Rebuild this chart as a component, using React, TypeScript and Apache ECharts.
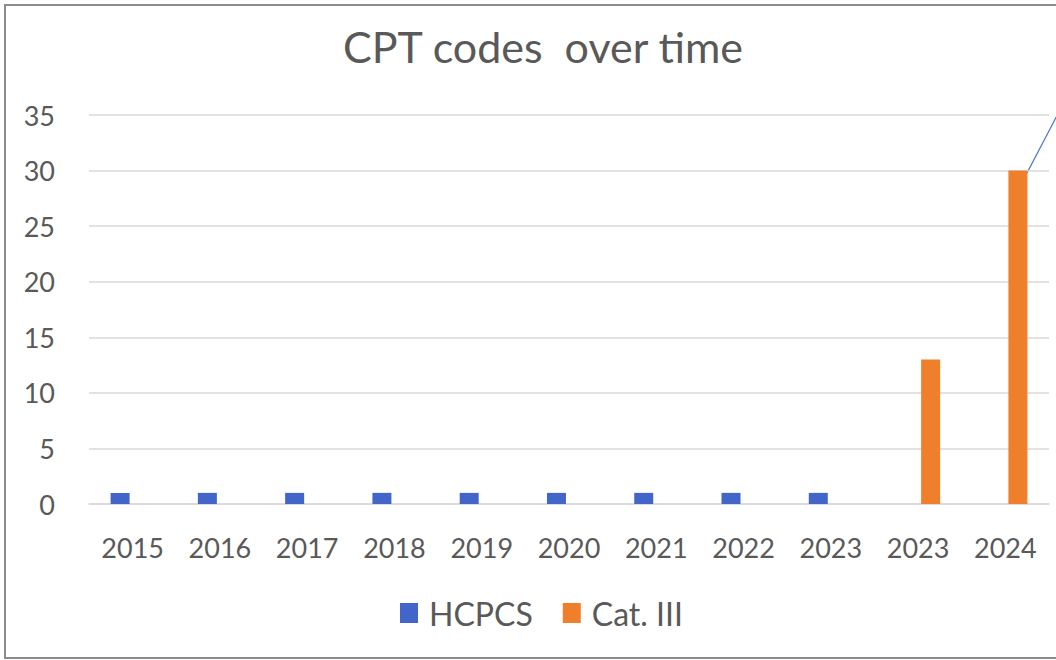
import React, { useEffect, useRef } from "react";
import * as echarts from "echarts";

const categories = ["2015", "2016", "2017", "2018", "2019", "2020", "2021", "2022", "2023", "2023", "2024"];
const hcpcsValues = [1, 1, 1, 1, 1, 1, 1, 1, 1, null, null];
const cat3Values = [null, null, null, null, null, null, null, null, null, 13, 30];
const seriesNames = ["HCPCS", "Cat. III"];
const titleText = "CPT codes  over time";

const FONT = "Lato, 'Noto Sans', sans-serif";
const TEXT = "#595959";

export default function App() {
  const ref = useRef<HTMLDivElement>(null);
  useEffect(() => {
    document.body.style.margin = "0";
    if (!ref.current) return;
    const chart = echarts.init(ref.current, null, { renderer: "svg" });
    chart.setOption({
      animation: false,
      backgroundColor: "#ffffff",
      title: {
        text: titleText,
        left: 538,
        textAlign: "center",
        top: 20,
        textStyle: { fontFamily: FONT, fontSize: 43, fontWeight: "normal", color: TEXT },
      },
      legend: {
        left: 395,
        top: 592,
        icon: "rect",
        itemWidth: 18,
        itemHeight: 20,
        itemGap: 30,
        textStyle: { fontFamily: FONT, fontSize: 32, color: TEXT, padding: [0, 0, 0, 6] },
        data: seriesNames,
      },
      grid: { left: 89, right: 7, top: 115, bottom: 156, containLabel: false },
      xAxis: {
        type: "category",
        data: categories,
        axisLine: { show: true, lineStyle: { color: "#D9D9D9", width: 1.5 } },
        axisTick: { show: false },
        axisLabel: { fontFamily: FONT, fontSize: 27, color: TEXT, margin: 30 },
      },
      yAxis: {
        type: "value",
        min: 0,
        max: 35,
        interval: 5,
        axisLine: { show: false },
        axisTick: { show: false },
        splitLine: { lineStyle: { color: "#D9D9D9", width: 1.5 } },
        axisLabel: { fontFamily: FONT, fontSize: 27, color: TEXT, margin: 34 },
      },
      series: [
        {
          name: seriesNames[0],
          type: "bar",
          data: hcpcsValues,
          barWidth: 19,
          barGap: "32%",
          itemStyle: { color: "#4165C8" },
        },
        {
          name: seriesNames[1],
          type: "bar",
          data: cat3Values,
          barWidth: 19,
          itemStyle: { color: "#F07F2C" },
        },
      ],
      graphic: [
        {
          type: "rect",
          shape: { x: 5, y: 5, width: 1060, height: 653 },
          style: { fill: "none", stroke: "#8C8C8C", lineWidth: 2 },
          silent: true,
        },
        {
          type: "line",
          shape: { x1: 1027, y1: 173, x2: 1061, y2: 108 },
          style: { stroke: "#4472C4", lineWidth: 1.2 },
          silent: true,
        },
      ],
    });
    return () => chart.dispose();
  }, []);
  return <div ref={ref} style={{ position: "fixed", left: 0, top: 0, width: 1056, height: 660 }} />;
}
